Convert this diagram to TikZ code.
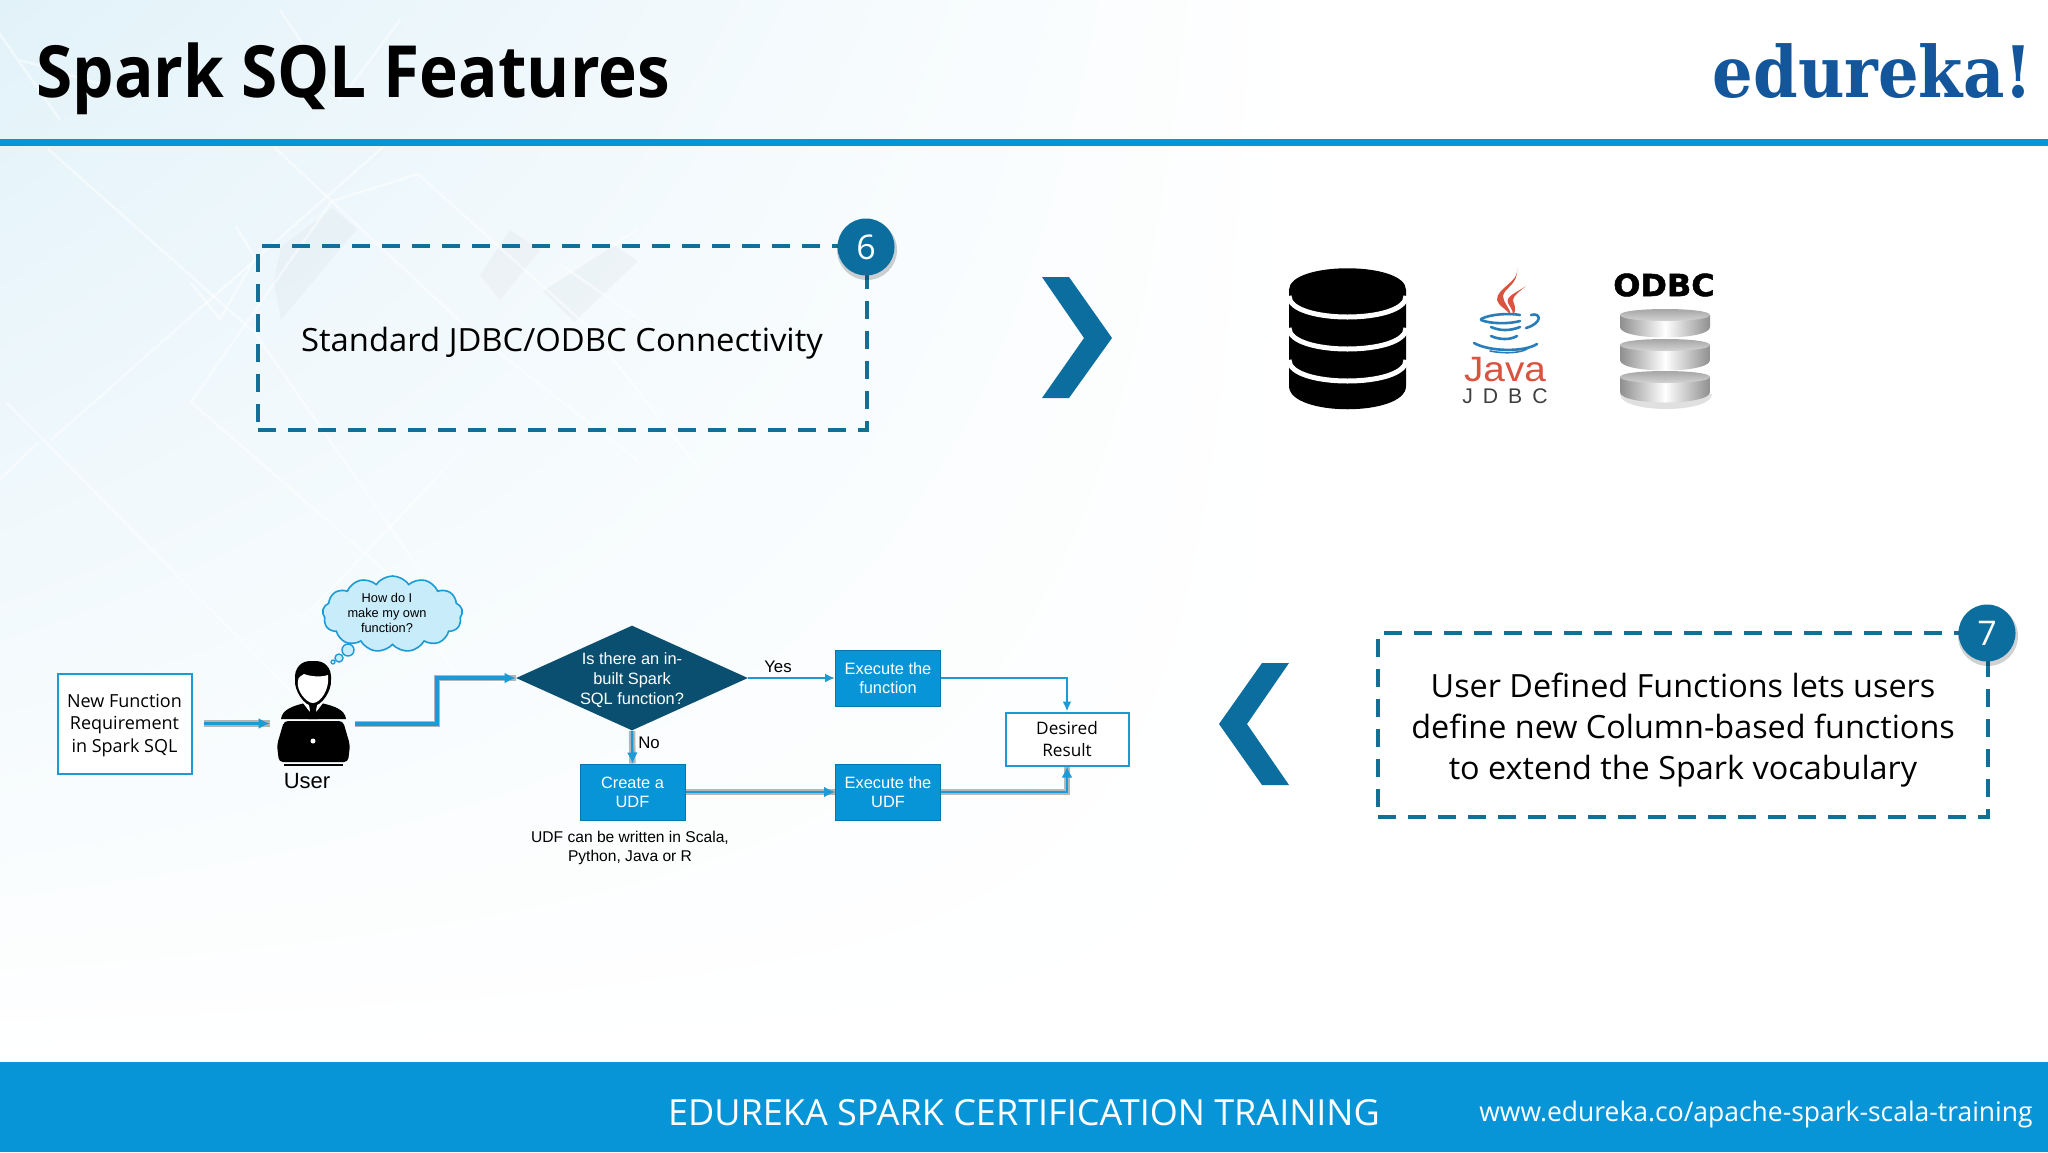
\documentclass[tikz,border=0pt]{standalone}
\usepackage{fontspec}
\setmainfont{Open Sans}
\newfontfamily\arialf{Liberation Sans}
\newfontfamily\logof{DejaVu Serif}
\newfontfamily\blackf[BoldFeatures={FakeBold=1.6}]{DejaVu Sans}
\usetikzlibrary{shapes.geometric,shapes.symbols,arrows.meta,shadings}
\newdimen\px \px=0.5pt
\definecolor{barblue}{HTML}{0795D8}
\definecolor{deepblue}{HTML}{0B6E9E}
\definecolor{dashblue}{HTML}{126F98}
\definecolor{diafill}{HTML}{0A4F70}
\definecolor{logoblue}{HTML}{13569B}
\definecolor{linkblue}{HTML}{1C9AD6}
\definecolor{cloudfill}{HTML}{C8ECF9}
\definecolor{javared}{HTML}{D9533F}
\definecolor{javablue}{HTML}{2A7DB8}
\definecolor{discgrey}{HTML}{8F8F8F}
\definecolor{bgtl}{HTML}{E2F2F9}
\definecolor{bgpatchc}{HTML}{B8BEC8}
\newcommand{\fs}[2]{\fontsize{#1}{#2}\selectfont}
\newcommand{\halfell}[4]{(#1,#3) .. controls (#1,#3+#4) and (#2,#3+#4) .. (#2,#3)}
\tikzset{
  flowbox/.style={rectangle,draw=barblue!80!black,fill=barblue,line width=1\px,text=white,inner sep=0pt,
    minimum width=105\px,minimum height=56\px,align=center,font=\arialf\fs{8.2}{9.6}},
  whitebox/.style={rectangle,draw=linkblue,fill=white,line width=2\px,inner sep=0pt,align=center},
  dashbox/.style={rectangle,draw=dashblue,line width=4\px,dash pattern=on 18\px off 12\px,inner sep=0pt,align=center},
  badge/.style={circle,fill=deepblue,text=white,inner sep=0pt,minimum size=57\px,font=\fs{17}{20}},
  badgeshadow/.style={circle,fill=black,opacity=.18,inner sep=0pt,minimum size=60\px},
  chev/.style={fill=deepblue,draw=none},
  thin link/.style={draw=linkblue,line width=2\px,-{Latex[length=5pt,width=4.5pt]}},
  thick link/.style={draw=linkblue,line width=3.4\px,-{Latex[length=5.5pt,width=5.5pt]},
     preaction={draw=black,opacity=.28,line width=6.5\px,-}},
  plain text/.style={inner sep=0pt,align=center},
  bgline/.style={draw=white,line width=2.5\px,opacity=.5},
  bgpatch/.style={fill=bgpatchc,opacity=.1,draw=none},
  band/.style={draw=white,line width=5\px},
  lens/.style={draw=javablue,line width=2.6\px,line cap=round},
}
\begin{document}
\begin{tikzpicture}[x=0.5pt,y=-0.5pt]
\useasboundingbox (0,0) rectangle (2048,1152);
% background
\fill[white] (0,0) rectangle (2048,1152);
\begin{scope}
\clip (0,0) rectangle (2048,1152);
\shade[upper left=bgtl,upper right=white,lower left=white,lower right=white] (0,0) rectangle (1300,1062);
% faint patches
\fill[bgpatch] (332,208) -- (357,229) -- (281,320) -- (274,283) -- (281,247) -- cycle;
\fill[bgpatch] (612,244) -- (638,261) -- (574,322) -- (542,290) -- cycle;
\fill[bgpatch] (510,230) -- (540,250) -- (500,300) -- (480,275) -- cycle;
% diamond lines
\draw[bgline] (236,226) -- (255,258) -- (220,319) -- (191,283);
\draw[bgline] (48,149) -- (255,333) -- (420,570);
\draw[bgline] (6,402) -- (300,700);
\draw[bgline] (418,174) -- (587,326) -- (700,470);
\draw[bgline] (418,174) -- (332,201) -- (191,402) -- (383,569) -- (460,680);
\draw[bgline] (459,454) -- (300,622);
\draw[bgline] (274,147) -- (465,326) -- (638,461);
\draw[bgline] (383,147) -- (51,440);
\draw[bgline] (0,479) -- (38,443);
\draw[bgline] (542,290) -- (638,229);
\draw[bgline] (561,265) -- (670,340);
\draw[bgline] (-10,20) -- (60,120);
\draw[bgline] (280,10) -- (340,100) -- (400,20);
\draw[bgline] (120,90) -- (20,60);
\end{scope}

% top rule and footer
\fill[barblue] (0,139) rectangle (2048,146);
\fill[barblue] (0,1062) rectangle (2048,1152);

% title and logo
\node[plain text,anchor=base west,xscale=.912] (title) at (36,97) {\bfseries\fs{36}{40}Spark SQL Features};
\node[plain text,anchor=base east,text=logoblue,xscale=.9] (logo) at (2033,97) {\logof\bfseries\fs{35.5}{40}edureka!};

% feature 6
\node[dashbox,minimum width=609\px,minimum height=184\px] (box6) at (562.5,338) {};
\node[plain text,xscale=1.025] (txt6) at (562,343) {\fs{16}{18}Standard JDBC/ODBC Connectivity};
\node[badgeshadow] (sh6) at (867,250) {};
\node[badge] (b6) at (866,247) {6};
\fill[chev] (1042,277) -- (1069,277) -- (1112,338) -- (1069,398) -- (1042,398) -- (1084,338) -- cycle;

% database icon
\fill[black] (1289,290) .. controls (1289,261) and (1406,261) .. (1406,290) -- (1406,386)
   .. controls (1406,417) and (1289,417) .. (1289,386) -- cycle;
\draw[band] \halfell{1289}{1406}{296}{28};
\draw[band] \halfell{1289}{1406}{328}{28};
\draw[band] \halfell{1289}{1406}{360}{28};

% java icon
\fill[javared] (1517,268) .. controls (1520,282) and (1496,288) .. (1497,300) .. controls (1498,306) and (1507,309) .. (1511,316)
   .. controls (1510,307) and (1503,303) .. (1503,296) .. controls (1504,288) and (1519,284) .. cycle;
\fill[javared] (1526,286) .. controls (1518,292) and (1505,296) .. (1508,303) .. controls (1510,307) and (1513,310) .. (1513,315)
   .. controls (1518,308) and (1513,304) .. (1513,300) .. controls (1513,296) and (1520,291) .. cycle;
\draw[lens] (1481,319) .. controls (1490,314) and (1510,313) .. (1520,315);
\draw[lens] (1481,320) .. controls (1490,324) and (1510,324) .. (1520,321);
\draw[lens] (1531,315) .. controls (1541,312) and (1543,323) .. (1526,328);
\draw[lens] (1491,327) .. controls (1500,331) and (1510,331) .. (1520,327);
\draw[lens] (1491,336) .. controls (1500,340) and (1510,340) .. (1517,336);
\draw[lens] (1474,343) .. controls (1490,352) and (1525,352) .. (1537,344);
\draw[lens,line width=1.6\px] (1490,351) .. controls (1505,354) and (1520,353) .. (1527,349);
\node[plain text,text=javared,anchor=base,xscale=1.1] (java) at (1505,381) {\arialf\fs{17.6}{19}Java};
\node[plain text,text=black!75,anchor=base] (jdbc) at (1505,403) {\arialf\fs{10.6}{12}J\hspace{5pt}D\hspace{5pt}B\hspace{5pt}C};

% odbc icon
\node[plain text,xscale=1.05] (odbc) at (1664,285) {\blackf\bfseries\fs{15.2}{18}ODBC};
\fill[black,opacity=.12] (1620,394) .. controls (1620,414) and (1712,414) .. (1712,394) -- cycle;
\foreach \yt/\yb in {371/392, 339/360, 309/327}{
  \shade[left color=discgrey,right color=discgrey,middle color=white]
     (1620,\yt+6) -- (1620,\yb) .. controls (1620,\yb+14) and (1710,\yb+14) .. (1710,\yb) -- (1710,\yt+6) -- cycle;
  \shade[top color=black!38,bottom color=black!14] (1620,\yt+6) .. controls (1620,\yt-2) and (1710,\yt-2) .. (1710,\yt+6)
     .. controls (1710,\yt+14) and (1620,\yt+14) .. cycle;
}

% feature 7
\node[dashbox,minimum width=610\px,minimum height=184\px] (box7) at (1683,725) {};
\node[plain text,font=\fs{16}{20.6},xscale=1.012] (txt7) at (1683,730)
  {User Defined Functions lets users\\define new Column-based functions\\to extend the Spark vocabulary};
\node[badgeshadow] (sh7) at (1988,636) {};
\node[badge] (b7) at (1987,633) {7};
\fill[chev] (1289,663) -- (1262,663) -- (1219,724) -- (1262,785) -- (1289,785) -- (1247,724) -- cycle;

% flow: left part
\node[whitebox,minimum width=134\px,minimum height=100\px] (newfn) at (124.5,723.5) {};
\node[plain text,font=\fs{9}{11.1}] (newfntxt) at (124.5,725.5) {New Function\\Requirement\\in Spark SQL};

% user figure
\coordinate (user) at (313,724);
\path (user) node[inner sep=0pt,minimum width=74\px,minimum height=4\px] (userbox) {};
\fill[black] (281,719) .. controls (282,710) and (292,706) .. (305,703) -- (321,703)
   .. controls (335,706) and (345,710) .. (346,719) -- cycle;
\fill[white] (303,703) -- (313,716) -- (323,703) -- cycle;
\fill[black] (309,705) -- (317,705) -- (316,710) -- (318,719) -- (308,719) -- (310,710) -- cycle;
\fill[black] (313,661) .. controls (325,660) and (332,668) .. (331,680) .. controls (332,690) and (322,706) .. (313,706)
   .. controls (304,706) and (294,690) .. (295,680) .. controls (294,668) and (301,660) .. (313,661) -- cycle;
\fill[white] (298,681) .. controls (298,677) and (301,676) .. (304,674) .. controls (312,677) and (322,677) .. (328,675)
   .. controls (330,690) and (320,703) .. (313,703) .. controls (306,703) and (296,690) .. (298,681) -- cycle;
\fill[black,rounded corners=4\px] (284,721) -- (343,721) -- (350,745) -- (348,762) -- (279,762) -- (277,745) -- cycle;
\fill[black] (284,764) rectangle (343,766);
\node[circle,fill=white,inner sep=0pt,minimum size=5\px] (dot) at (313,741) {};
\node[plain text] (usertxt) at (307,781) {\arialf\fs{11}{13}User};

% thought cloud
\node[cloud,draw=linkblue,fill=cloudfill,line width=1.6\px,cloud puffs=13,cloud puff arc=110,aspect=1.85,
   inner sep=0pt,minimum width=140\px,minimum height=76\px] (thought) at (392.5,614) {};
\node[plain text,font=\arialf\fs{6.4}{7.4}] (thoughttxt) at (387,613) {How do I\\make my own\\function?};
\node[circle,draw=linkblue,fill=cloudfill,line width=1.4\px,inner sep=0pt,minimum size=12\px] (p1) at (348,650) {};
\node[circle,draw=linkblue,fill=cloudfill,line width=1.4\px,inner sep=0pt,minimum size=8\px] (p2) at (339,658) {};
\node[circle,draw=linkblue,fill=cloudfill,line width=1.2\px,inner sep=0pt,minimum size=4\px] (p3) at (333,662) {};

% flow nodes
\node[diamond,fill=diafill,inner sep=0pt,minimum width=232\px,minimum height=105\px,shape aspect=2.21] (dia) at (632,678) {};
\node[plain text,text=white,font=\arialf\fs{8.2}{9.8}] (diatxt) at (632,680) {Is there an in-\\built Spark\\SQL function?};
\node[flowbox] (exf) at (888,678) {Execute the\\function};
\node[flowbox] (cudf) at (632.5,792) {Create a\\UDF};
\node[flowbox] (exu) at (888,792) {Execute the\\UDF};
\node[whitebox,minimum width=123\px,minimum height=53\px,font=\fs{8.6}{10.8}] (res) at (1067,739) {Desired\\Result};
\coordinate (bendx) at (437,700);

% connectors
\draw[thick link,shorten <=11\px,shorten >=6\px] (newfn.east) -- (newfn.east -| userbox.west);
\draw[thick link,shorten <=5\px] (userbox.east) -| (bendx) |- (dia.west);
\draw[thin link] (dia.east) -- (exf.west);
\draw[thin link] (exf.east) -| (res.north);
\draw[thick link,line width=2.4\px] (dia.south) -- (cudf.north);
\draw[thick link,line width=2.4\px] (cudf.east) -- (exu.west);
\draw[thick link,line width=2.4\px] (exu.east) -| (res.south);

\node[plain text,font=\arialf\fs{8.4}{10}] (yes) at (778,667) {Yes};
\node[plain text,font=\arialf\fs{8.4}{10}] (no) at (649,743) {No};
\node[plain text,font=\arialf\fs{7.8}{9.5}] (cap) at (630,848) {UDF can be written in Scala,\\Python, Java or R};

% footer text
\node[plain text,text=white] (foot) at (1024,1113) {\fs{18}{20}EDUREKA SPARK CERTIFICATION TRAINING};
\node[plain text,text=white,anchor=east,xscale=.98] (url) at (2033,1114) {\fs{13.5}{16}www.edureka.co/apache-spark-scala-training};
\end{tikzpicture}
\end{document}
